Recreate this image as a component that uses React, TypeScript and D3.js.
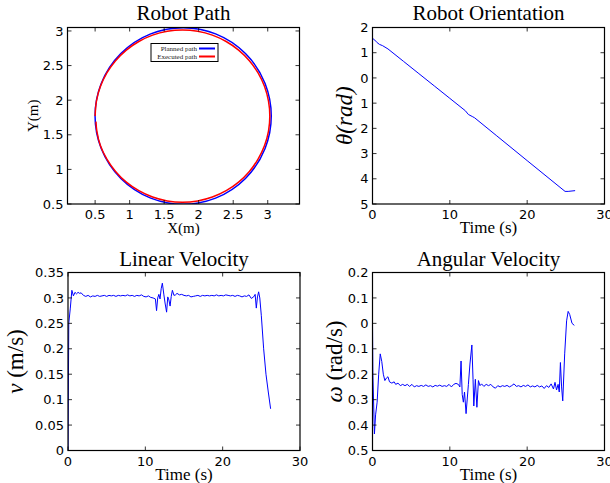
import React from "react";
import * as d3 from "d3";

const W = 610;
const H = 483;
const SERIF = "'Liberation Serif', 'Times New Roman', serif";
const SANS = "'DejaVu Sans', sans-serif";

// ---------- data ----------
const plannedCircle = { cx: 1.775, cy: 1.772, r: 1.276 };

const executedPath: [number, number][] = [
  [0.5, 1.77], [0.519, 1.986], [0.576, 2.196], [0.67, 2.393], [0.796, 2.57],
  [0.952, 2.724], [1.133, 2.848], [1.332, 2.94], [1.545, 2.996], [1.765, 3.015],
  [1.985, 2.996], [2.198, 2.94], [2.398, 2.848], [2.578, 2.724], [2.734, 2.57],
  [2.86, 2.393], [2.954, 2.196], [3.011, 1.986], [3.03, 1.77], [3.011, 1.554],
  [2.954, 1.344], [2.86, 1.148], [2.734, 0.97], [2.578, 0.816], [2.398, 0.692],
  [2.198, 0.6], [1.985, 0.544], [1.765, 0.525], [1.545, 0.544], [1.332, 0.6],
  [1.133, 0.692], [0.952, 0.816], [0.796, 0.97], [0.67, 1.148], [0.576, 1.344],
  [0.525, 1.554], [0.512, 1.69],
];

const orientation: [number, number][] = [
  [0, 1.57], [0.3, 1.5], [0.6, 1.4], [0.9, 1.33], [1.3, 1.28], [2, 1.15],
  [4, 0.66], [6, 0.17], [8, -0.32], [10, -0.81], [12, -1.3], [12.4, -1.45],
  [12.9, -1.53], [13.2, -1.58], [16, -2.28], [20, -3.28], [24.9, -4.5],
  [25.3, -4.5], [26.2, -4.47],
];

const linearVel: [number, number][] = [
  [0, 0], [0.1, 0.25], [0.3, 0.28], [0.5, 0.315], [0.7, 0.304], [0.9, 0.311],
  [1.1, 0.308], [1.3, 0.311], [1.5, 0.309], [1.7, 0.31], [2.0, 0.305], [2.3, 0.303],
  [2.6, 0.305], [2.9, 0.302], [3.2, 0.304], [3.5, 0.303], [3.8, 0.305], [4.1, 0.303],
  [4.4, 0.304], [4.7, 0.305], [5.0, 0.303], [5.3, 0.305], [5.6, 0.304], [5.9, 0.305],
  [6.2, 0.303], [6.5, 0.305], [6.8, 0.304], [7.1, 0.305], [7.4, 0.304], [7.7, 0.306],
  [8.0, 0.304], [8.3, 0.305], [8.6, 0.303], [8.9, 0.305], [9.2, 0.304], [9.5, 0.306],
  [9.8, 0.303], [10.1, 0.302], [10.4, 0.304], [10.7, 0.301], [11.0, 0.3], [11.3, 0.298],
  [11.45, 0.275], [11.6, 0.3], [11.75, 0.307], [11.9, 0.298], [12.05, 0.318], [12.2, 0.329],
  [12.4, 0.306], [12.55, 0.29], [12.75, 0.272], [12.9, 0.302], [13.05, 0.296], [13.2, 0.284],
  [13.35, 0.303], [13.5, 0.315], [13.7, 0.305], [13.9, 0.306], [14.1, 0.309], [14.4, 0.306],
  [14.7, 0.307], [15.0, 0.305], [15.3, 0.304], [15.6, 0.305], [15.9, 0.302], [16.2, 0.303],
  [16.5, 0.304], [16.8, 0.305], [17.1, 0.303], [17.4, 0.305], [17.7, 0.304], [18.0, 0.305],
  [18.3, 0.304], [18.6, 0.305], [18.9, 0.304], [19.2, 0.306], [19.5, 0.304], [19.8, 0.305],
  [20.1, 0.304], [20.4, 0.306], [20.7, 0.305], [21.0, 0.304], [21.3, 0.305], [21.6, 0.303],
  [21.9, 0.305], [22.2, 0.304], [22.5, 0.302], [22.8, 0.304], [23.1, 0.303], [23.4, 0.306],
  [23.7, 0.299], [24.0, 0.302], [24.2, 0.307], [24.35, 0.28], [24.5, 0.302], [24.65, 0.312],
  [24.8, 0.3], [25.0, 0.265], [25.3, 0.2], [25.6, 0.15], [25.9, 0.115], [26.2, 0.082],
];

const angularVel: [number, number][] = [
  [0, 0], [0.05, -0.2], [0.25, -0.435], [0.4, -0.36], [0.6, -0.31], [0.8, -0.2],
  [1.0, -0.12], [1.2, -0.15], [1.4, -0.2], [1.6, -0.225], [1.8, -0.215], [2.0, -0.21],
  [2.2, -0.23], [2.5, -0.235], [2.8, -0.23], [3.0, -0.24], [3.3, -0.235], [3.6, -0.245],
  [3.9, -0.24], [4.2, -0.245], [4.5, -0.24], [4.8, -0.248], [5.1, -0.24], [5.4, -0.25],
  [5.7, -0.245], [6.0, -0.248], [6.3, -0.244], [6.6, -0.248], [6.9, -0.242], [7.2, -0.248],
  [7.5, -0.245], [7.8, -0.25], [8.1, -0.244], [8.4, -0.247], [8.7, -0.243], [9.0, -0.248],
  [9.3, -0.245], [9.6, -0.248], [9.9, -0.24], [10.2, -0.25], [10.5, -0.24], [10.8, -0.236],
  [11.1, -0.24], [11.3, -0.25], [11.45, -0.148], [11.6, -0.28], [11.75, -0.31], [11.9, -0.27],
  [12.1, -0.355], [12.4, -0.24], [12.6, -0.16], [12.85, -0.085], [13.0, -0.22], [13.1, -0.325],
  [13.3, -0.22], [13.5, -0.33], [13.7, -0.225], [13.9, -0.245], [14.1, -0.238], [14.4, -0.248],
  [14.7, -0.24], [15.0, -0.245], [15.3, -0.24], [15.6, -0.25], [15.9, -0.255], [16.2, -0.245],
  [16.5, -0.25], [16.8, -0.245], [17.1, -0.248], [17.4, -0.244], [17.7, -0.25], [18.0, -0.245],
  [18.3, -0.238], [18.6, -0.248], [18.9, -0.245], [19.2, -0.25], [19.5, -0.244], [19.8, -0.248],
  [20.1, -0.242], [20.4, -0.25], [20.7, -0.246], [21.0, -0.25], [21.3, -0.244], [21.6, -0.25],
  [21.9, -0.246], [22.2, -0.256], [22.5, -0.245], [22.8, -0.252], [23.1, -0.238], [23.4, -0.258],
  [23.6, -0.232], [23.8, -0.262], [24.0, -0.24], [24.15, -0.27], [24.3, -0.154], [24.45, -0.25],
  [24.6, -0.305], [24.85, -0.12], [25.1, 0.01], [25.3, 0.047], [25.5, 0.035], [25.8, 0.0],
  [26.1, -0.008],
];

const pathTicks = [0.5, 1, 1.5, 2, 2.5, 3];
const timeTicks = [0, 10, 20, 30];
const orientTicks = [2, 1, 0, -1, -2, -3, -4, -5];
const linTicks = [0, 0.05, 0.1, 0.15, 0.2, 0.25, 0.3, 0.35];
const angTicks = [0.2, 0.1, 0, -0.1, -0.2, -0.3, -0.4, -0.5];
const legendItems = [
  { label: "Planned path", color: "#0000ff" },
  { label: "Executed path", color: "#ff0000" },
];

// tick labels in the reference lose their minus sign
const fmt = (v: number) => String(Math.round(Math.abs(v) * 1000) / 1000);

type Scale = d3.ScaleLinear<number, number>;

interface PanelProps {
  box: [number, number, number, number];
  xDomain: [number, number];
  yDomain: [number, number];
  xTicks: number[];
  yTicks: number[];
  title: string;
  titleY: number;
  xlabel: string;
  xlabelSize: number;
  ylabel: React.ReactNode;
  ylabelX: number;
  ylabelSize: number;
  children: (x: Scale, y: Scale) => React.ReactNode;
}

function Panel(p: PanelProps) {
  const [x0, y0, x1, y1] = p.box;
  const x = d3.scaleLinear().domain(p.xDomain).range([x0, x1]);
  const y = d3.scaleLinear().domain(p.yDomain).range([y1, y0]);
  const tl = 4;
  const id = `clip-${Math.round(x0)}-${Math.round(y0)}`;
  return (
    <g>
      <defs>
        <clipPath id={id}>
          <rect x={x0} y={y0} width={x1 - x0} height={y1 - y0} />
        </clipPath>
      </defs>
      <g clipPath={`url(#${id})`}>{p.children(x, y)}</g>
      {p.xTicks.map((t) => (
        <g key={"x" + t}>
          <line x1={x(t)} x2={x(t)} y1={y1} y2={y1 - tl} stroke="#000" strokeWidth={0.8} />
          <line x1={x(t)} x2={x(t)} y1={y0} y2={y0 + tl} stroke="#000" strokeWidth={0.8} />
          <text x={x(t)} y={y1 + 15} textAnchor="middle" fontFamily={SANS} fontSize={13}>
            {fmt(t)}
          </text>
        </g>
      ))}
      {p.yTicks.map((t) => (
        <g key={"y" + t}>
          <line x1={x0} x2={x0 + tl} y1={y(t)} y2={y(t)} stroke="#000" strokeWidth={0.8} />
          <line x1={x1} x2={x1 - tl} y1={y(t)} y2={y(t)} stroke="#000" strokeWidth={0.8} />
          <text x={x0 - 4} y={y(t)} dy="0.36em" textAnchor="end" fontFamily={SANS} fontSize={13}>
            {fmt(t)}
          </text>
        </g>
      ))}
      <rect x={x0} y={y0} width={x1 - x0} height={y1 - y0} fill="none" stroke="#000" strokeWidth={1.2} />
      <text x={(x0 + x1) / 2} y={p.titleY} textAnchor="middle" fontFamily={SERIF} fontSize={21}>
        {p.title}
      </text>
      <text x={(x0 + x1) / 2} y={y1 + 29} textAnchor="middle" fontFamily={SERIF} fontSize={p.xlabelSize}>
        {p.xlabel}
      </text>
      <text
        transform={`translate(${p.ylabelX},${(y0 + y1) / 2}) rotate(-90)`}
        textAnchor="middle"
        fontFamily={SERIF}
        fontSize={p.ylabelSize}
      >
        {p.ylabel}
      </text>
    </g>
  );
}

export default function App() {
  const pathLine = (x: Scale, y: Scale) =>
    d3
      .line<[number, number]>()
      .x((d) => x(d[0]))
      .y((d) => y(d[1]))
      .curve(d3.curveCatmullRom);
  const dataLine = (x: Scale, y: Scale) =>
    d3
      .line<[number, number]>()
      .x((d) => x(d[0]))
      .y((d) => y(d[1]));

  return (
    <svg width={W} height={H} style={{ position: "absolute", left: 0, top: 0, background: "#fff" }}>
      <rect x={0} y={0} width={W} height={H} fill="#fff" />
      {/* Robot Path */}
      <Panel
        box={[67.5, 27.5, 299.5, 204]}
        xDomain={[0.1, 3.46]}
        yDomain={[0.5, 3.05]}
        xTicks={pathTicks}
        yTicks={pathTicks}
        title="Robot Path"
        titleY={20}
        xlabel="X(m)"
        xlabelSize={15}
        ylabel="Y(m)"
        ylabelX={38}
        ylabelSize={15}
      >
        {(x, y) => (
          <g>
            <ellipse
              cx={x(plannedCircle.cx)}
              cy={y(plannedCircle.cy)}
              rx={x(plannedCircle.cx + plannedCircle.r) - x(plannedCircle.cx)}
              ry={y(plannedCircle.cy) - y(plannedCircle.cy + plannedCircle.r)}
              fill="none"
              stroke="#0000ff"
              strokeWidth={1.5}
            />
            <path d={pathLine(x, y)(executedPath) || ""} fill="none" stroke="#ff0000" strokeWidth={1.5} />
          </g>
        )}
      </Panel>
      {/* legend */}
      <g>
        <rect x={151} y={43.5} width={67} height={18} fill="#fff" stroke="#000" strokeWidth={1} />
        {legendItems.map((d, i) => (
          <g key={d.label}>
            <text x={197} y={51 + i * 8} textAnchor="end" fontFamily={SERIF} fontSize={7} fill="#222">
              {d.label}
            </text>
            <line x1={199} x2={215} y1={48.5 + i * 8} y2={48.5 + i * 8} stroke={d.color} strokeWidth={2} />
          </g>
        ))}
      </g>
      {/* Robot Orientation */}
      <Panel
        box={[372.5, 27.5, 604.5, 204]}
        xDomain={[0, 30]}
        yDomain={[-5, 2]}
        xTicks={timeTicks}
        yTicks={orientTicks}
        title="Robot Orientation"
        titleY={20}
        xlabel="Time (s)"
        xlabelSize={17}
        ylabel={<tspan fontStyle="italic">θ(rad)</tspan>}
        ylabelX={352}
        ylabelSize={23}
      >
        {(x, y) => <path d={dataLine(x, y)(orientation) || ""} fill="none" stroke="#0000ff" strokeWidth={1} />}
      </Panel>
      {/* Linear Velocity */}
      <Panel
        box={[68, 272.5, 300, 450.5]}
        xDomain={[0, 30]}
        yDomain={[0, 0.35]}
        xTicks={timeTicks}
        yTicks={linTicks}
        title="Linear Velocity"
        titleY={266}
        xlabel="Time (s)"
        xlabelSize={17}
        ylabel={
          <>
            <tspan fontStyle="italic">v</tspan>
            <tspan> (m/s)</tspan>
          </>
        }
        ylabelX={23}
        ylabelSize={23}
      >
        {(x, y) => <path d={dataLine(x, y)(linearVel) || ""} fill="none" stroke="#0000ff" strokeWidth={1} />}
      </Panel>
      {/* Angular Velocity */}
      <Panel
        box={[372.5, 272.5, 604.5, 450.5]}
        xDomain={[0, 30]}
        yDomain={[-0.5, 0.2]}
        xTicks={timeTicks}
        yTicks={angTicks}
        title="Angular Velocity"
        titleY={266}
        xlabel="Time (s)"
        xlabelSize={17}
        ylabel={
          <>
            <tspan fontStyle="italic">ω</tspan>
            <tspan> (rad/s)</tspan>
          </>
        }
        ylabelX={342}
        ylabelSize={23}
      >
        {(x, y) => <path d={dataLine(x, y)(angularVel) || ""} fill="none" stroke="#0000ff" strokeWidth={1} />}
      </Panel>
    </svg>
  );
}
